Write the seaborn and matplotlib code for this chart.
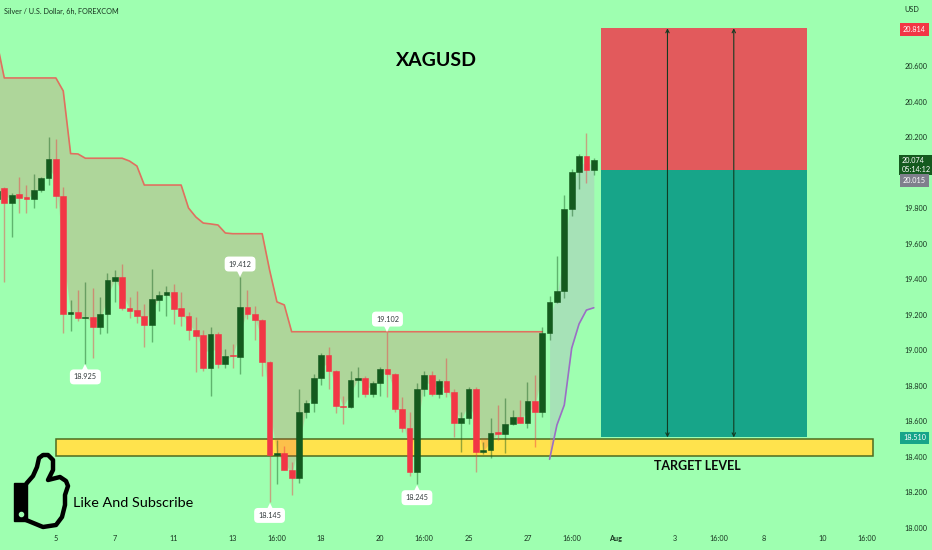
import matplotlib
matplotlib.use("Agg")
import matplotlib.pyplot as plt
import pandas as pd
import seaborn as sns
from matplotlib.patches import PathPatch, Rectangle
from matplotlib.path import Path
from matplotlib.transforms import Affine2D, offset_copy

# --- Data (first candle sits just off the left edge) ---
opens = [19.85, 19.913, 19.832, 19.879, 19.862, 19.854, 19.905, 19.969, 20.078, 19.868,
         19.203, 19.216, 19.182, 19.188, 19.132, 19.203, 19.391, 19.415, 19.239, 19.226,
         19.194, 19.143, 19.284, 19.310, 19.327, 19.237, 19.195, 19.115, 19.087, 18.903,
         19.092, 18.925, 18.974, 18.965, 19.244, 19.205, 19.171, 18.935, 18.411, 18.421,
         18.325, 18.282, 18.655, 18.702, 18.846, 18.972, 18.882, 18.686, 18.683, 18.835,
         18.845, 18.753, 18.815, 18.895, 18.867, 18.668, 18.563, 18.317, 18.784, 18.861,
         18.755, 18.826, 18.767, 18.593, 18.619, 18.784, 18.428, 18.439, 18.539, 18.529,
         18.586, 18.625, 18.593, 18.715, 18.653, 19.096, 19.273, 19.334, 19.796, 20.003,
         20.095, 20.016]
highs = [19.95, 19.922, 19.885, 19.975, 19.931, 19.992, 19.978, 20.200, 20.189, 19.922,
         19.284, 19.340, 19.387, 19.350, 19.302, 19.434, 19.453, 19.486, 19.302, 19.334,
         19.261, 19.457, 19.334, 19.363, 19.374, 19.327, 19.218, 19.188, 19.115, 19.133,
         19.105, 19.008, 19.036, 19.412, 19.340, 19.250, 19.177, 18.940, 18.495, 18.463,
         18.373, 18.783, 18.721, 18.867, 18.985, 19.021, 18.890, 18.743, 18.886, 18.908,
         18.855, 18.825, 18.905, 19.102, 18.875, 18.736, 18.655, 18.815, 18.884, 18.884,
         18.840, 18.957, 18.780, 18.655, 18.795, 18.795, 18.486, 18.621, 18.693, 18.730,
         18.664, 18.721, 18.824, 18.861, 19.130, 19.308, 19.532, 19.875, 20.021, 20.106,
         20.222, 20.085]
lows = [19.80, 19.387, 19.637, 19.772, 19.775, 19.804, 19.894, 19.931, 19.804, 19.100,
        19.111, 19.167, 18.925, 18.955, 19.092, 19.100, 19.274, 19.227, 19.184, 19.153,
        19.017, 19.049, 19.224, 19.194, 19.149, 19.137, 19.059, 18.880, 18.886, 18.745,
        18.903, 18.901, 18.901, 18.867, 19.177, 19.059, 18.856, 18.145, 18.248, 18.325,
        18.186, 18.255, 18.620, 18.655, 18.805, 18.781, 18.648, 18.587, 18.678, 18.739,
        18.739, 18.740, 18.743, 18.739, 18.655, 18.542, 18.294, 18.245, 18.745, 18.745,
        18.730, 18.736, 18.514, 18.430, 18.586, 18.317, 18.417, 18.392, 18.495, 18.424,
        18.580, 18.590, 18.561, 18.458, 18.627, 19.059, 19.265, 19.293, 19.758, 19.909,
        19.944, 19.988]
closes = [19.90, 19.832, 19.875, 19.860, 19.852, 19.905, 19.969, 20.078, 19.868, 19.203,
          19.216, 19.182, 19.188, 19.130, 19.203, 19.395, 19.415, 19.237, 19.224, 19.194,
          19.143, 19.288, 19.312, 19.327, 19.233, 19.194, 19.115, 19.083, 18.903, 19.092,
          18.925, 18.970, 18.967, 19.244, 19.205, 19.171, 18.935, 18.411, 18.422, 18.325,
          18.282, 18.655, 18.704, 18.846, 18.972, 18.882, 18.685, 18.682, 18.835, 18.845,
          18.753, 18.815, 18.895, 18.867, 18.668, 18.563, 18.317, 18.784, 18.861, 18.755,
          18.826, 18.767, 18.593, 18.619, 18.784, 18.428, 18.439, 18.535, 18.529, 18.586,
          18.625, 18.593, 18.715, 18.653, 19.096, 19.273, 19.334, 19.796, 20.003, 20.095,
          20.016, 20.074]

# Upper stepped trend line, from the first candle up to bar 73
trend_values = [20.736, 20.534, 20.534, 20.534, 20.534, 20.534, 20.534, 20.534, 20.534, 20.461,
                20.108, 20.106, 20.082, 20.082, 20.082, 20.082, 20.082, 20.082, 20.066, 20.038,
                19.931, 19.931, 19.931, 19.931, 19.931, 19.931, 19.802, 19.751, 19.717, 19.712,
                19.706, 19.661, 19.657, 19.657, 19.657, 19.657, 19.657, 19.453, 19.273, 19.256,
                19.105, 19.105, 19.105, 19.105, 19.105, 19.105, 19.105, 19.105, 19.105, 19.105,
                19.105, 19.105, 19.105, 19.105, 19.105, 19.105, 19.105, 19.105, 19.105, 19.105,
                19.105, 19.105, 19.105, 19.105, 19.105, 19.105, 19.105, 19.105, 19.105, 19.105,
                19.105, 19.105, 19.105, 19.105, 19.105]
# Lower violet trend line, last seven bars
lower_values = [18.387, 18.580, 18.693, 19.012, 19.149, 19.227, 19.240]

# Position tool and target zone
stop_price = 20.814
entry_price = 20.015
target_price = 18.510
zone_top = 18.50
zone_bottom = 18.405

# Axis ticks
y_ticks = [18.0, 18.2, 18.4, 18.6, 18.8, 19.0, 19.2, 19.4, 19.6, 19.8, 20.2, 20.4, 20.6]
x_tick_bars = [7, 15, 23, 31, 37, 43, 51, 57, 63, 71, 77, 83, 91, 97, 103, 111, 117]
x_tick_labels = ["5", "7", "11", "13", "16:00", "18", "20", "16:00", "25", "27", "16:00",
                 "Aug", "3", "16:00", "8", "10", "16:00"]

# Price bubbles: bar, price, direction
bubble_bars = [32, 11, 52, 36, 56]
bubble_prices = [19.412, 18.925, 19.102, 18.145, 18.245]
bubble_above = [True, False, True, False, False]

# --- Colours ---
BG = "#9EFFB0"
UP = "#145A1E"
DOWN = "#F23645"
TEXT = "#17331F"

sns.set_theme(style="white", rc={"axes.facecolor": BG, "figure.facecolor": BG})
plt.rcParams["font.family"] = ["Lato", "DejaVu Sans"]

df = pd.DataFrame({"open": opens, "high": highs, "low": lows, "close": closes})
df["bar"] = range(-1, len(df) - 1)
df["mid"] = (df["open"] + df["close"]) / 2
df["body"] = (df["close"] - df["open"]).abs()
df["bottom"] = df[["open", "close"]].min(axis=1)
df["colour"] = [UP if c >= o else DOWN for o, c in zip(opens, closes)]

trend = pd.DataFrame({"bar": range(-1, 74), "value": trend_values})
lower = pd.DataFrame({"bar": range(74, 81), "value": lower_values})

fig = plt.figure(figsize=(9.32, 5.5), dpi=100)
ax = fig.add_axes([0, 0, 1, 1])

# pixel coordinates of the 932x550 picture, for the non data furniture
px = Affine2D().scale(1 / 932, -1 / 550).translate(0, 1) + ax.transAxes

# Target zone under everything else
ax.add_patch(Rectangle((7, zone_bottom), 110.9, zone_top - zone_bottom, facecolor="#FFE34D",
                       edgecolor="#4E6B1F", linewidth=1.1, zorder=1))

# Fills between the trend lines and the candle bodies
upper_mid = df[df["bar"] <= 73]
lower_mid = df[df["bar"] >= 74]
ax.fill_between(trend["bar"], trend["value"], upper_mid["mid"], color=DOWN, alpha=0.2,
                linewidth=0, zorder=2)
ax.fill_between(lower["bar"], lower["value"], lower_mid["mid"], color="#C47FD0", alpha=0.22,
                linewidth=0, zorder=2)

sns.lineplot(data=trend, x="bar", y="value", color="#E0705F", linewidth=1.2, estimator=None,
             ax=ax, zorder=3)
sns.lineplot(data=lower, x="bar", y="value", color="#9A6FC4", linewidth=1.2, estimator=None,
             ax=ax, zorder=3)

# Candles
ax.vlines(df["bar"], df["low"], df["high"], colors=df["colour"], linewidth=1, alpha=0.45, zorder=3)
ax.bar(df["bar"], df["body"], bottom=df["bottom"], width=0.78, color=df["colour"],
       edgecolor=df["colour"], linewidth=0.4, zorder=4)

# Long position box
ax.add_patch(Rectangle((81, entry_price), 28, stop_price - entry_price, facecolor="#E25A5C",
                       linewidth=0, zorder=2))
ax.add_patch(Rectangle((81, target_price), 28, entry_price - target_price, facecolor="#17A589",
                       linewidth=0, zorder=2))
for bar in [90, 99]:
    ax.annotate("", xy=(bar, stop_price), xytext=(bar, target_price),
                arrowprops=dict(arrowstyle="<->", color="#123B22", lw=0.8, mutation_scale=6,
                                shrinkA=0, shrinkB=0), zorder=5)

# High / low bubbles
for bar, price, above in zip(bubble_bars, bubble_prices, bubble_above):
    ax.annotate(f"{price:.3f}", xy=(bar, price), xytext=(0, 9.5 if above else -9.5),
                textcoords="offset points", ha="center", va="center", fontsize=5.2,
                color="#30383A", zorder=7,
                bbox=dict(boxstyle="round,pad=0.55", facecolor="white", edgecolor="none"))
    tip = offset_copy(ax.transData, fig=fig, y=2.5 if above else -2.5, units="points")
    ax.plot([bar], [price], marker="v" if above else "^", markersize=4.5, color="white",
            markeredgewidth=0, transform=tip, zorder=7)

# Axes: labels sit inside the picture like a trading terminal
ax.set_xlim(-0.583, 125.9)
ax.set_ylim(17.876, 20.973)
ax.yaxis.tick_right()
ax.set_yticks(y_ticks, [f"{v:.3f}" for v in y_ticks])
ax.set_xticks(x_tick_bars, x_tick_labels)
ax.tick_params(axis="y", length=0, pad=-20, labelsize=5.2, labelcolor=TEXT)
ax.tick_params(axis="x", length=0, pad=-11, labelsize=5.2, labelcolor=TEXT)
for label in ax.get_xticklabels():
    label.set_ha("center")
    if label.get_text() == "Aug":
        label.set_fontweight("bold")
ax.set(xlabel=None, ylabel=None)
sns.despine(ax=ax, left=True, bottom=True, right=True, top=True)

# Price tags on the right
tag_style = dict(ha="left", va="center", fontsize=5.2, color="white", zorder=8)
ax.text(903, 29.5, "20.814", transform=px,
        bbox=dict(boxstyle="square,pad=0.4", facecolor=DOWN, edgecolor="none"), **tag_style)
ax.text(902, 165, "20.074\n05:14:12", transform=px, linespacing=1.2,
        bbox=dict(boxstyle="square,pad=0.35", facecolor=UP, edgecolor="none"), **tag_style)
ax.text(903, 180.5, "20.015", transform=px,
        bbox=dict(boxstyle="square,pad=0.4", facecolor="#7F7F8C", edgecolor="none"), **tag_style)
ax.text(903, 438, "18.510", transform=px,
        bbox=dict(boxstyle="square,pad=0.4", facecolor="#17A589", edgecolor="none"), **tag_style)

# Header and drawn text
ax.text(904, 9, "USD", transform=px, ha="left", va="center", fontsize=5.2, color=TEXT)
ax.text(4, 11, "Silver / U.S. Dollar, 6h, FOREXCOM", transform=px, ha="left", va="center",
        fontsize=5.2, color=TEXT)
ax.text(436, 60, "XAGUSD", transform=px, ha="center", va="center", fontsize=14, fontweight="bold",
        color="black")
ax.text(697, 466, "TARGET LEVEL", transform=px, ha="center", va="center", fontsize=9,
        fontweight="bold", color="#0A0A0A")
ax.text(73, 503, "Like And Subscribe", transform=px, ha="left", va="center", fontsize=10.4,
        color="black")

# Thumbs up icon, outline in picture pixels
thumb_outline = [(26, 484), (33, 476), (37, 467), (39, 458), (43, 455), (48, 455), (53, 460),
                 (53, 470), (48, 480), (60, 477), (66, 481), (68, 486), (65, 495), (65, 505),
                 (62, 517), (56, 525), (43, 527), (26, 520)]
ax.add_patch(PathPatch(Path(thumb_outline), facecolor="none", edgecolor="black", linewidth=3.2,
                       joinstyle="round", transform=px, zorder=6))
ax.add_patch(Rectangle((14, 483), 13, 38, facecolor="black", edgecolor="black", linewidth=1,
                       transform=px, zorder=6))
ax.plot([20.5], [514], marker="o", markersize=3, color=BG, transform=px, zorder=7)

fig.savefig("out.png", dpi=100, facecolor=BG)
